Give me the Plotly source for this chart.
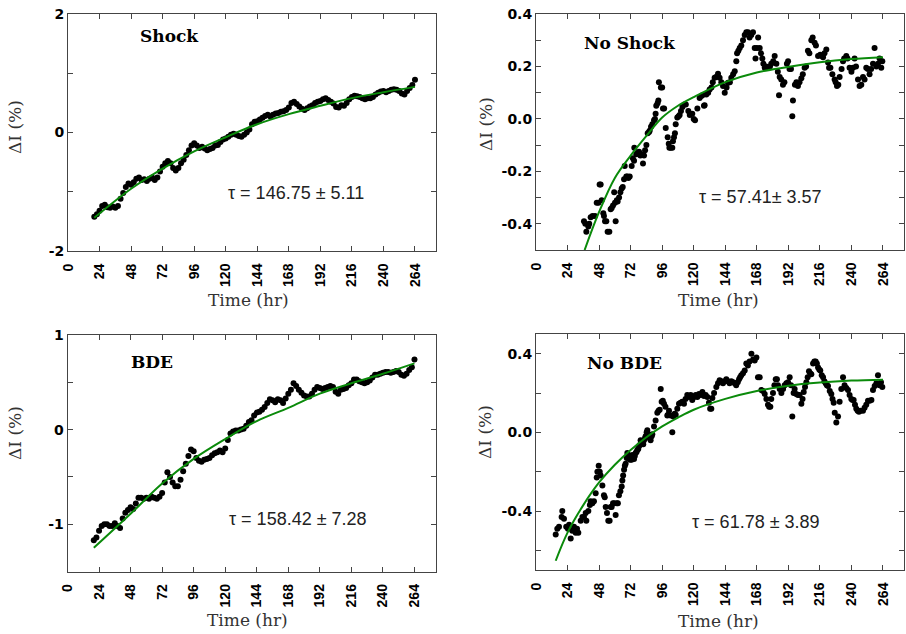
import plotly.graph_objects as go

W, H = 906, 634

# ---------------- data ----------------
TICKS_X = [0, 24, 48, 72, 96, 120, 144, 168, 192, 216, 240, 264]

# Shock (sampled every 2 hr from 20 to 264)
shock_t = list(range(20, 265, 2))
shock_y = [-1.42, -1.38, -1.32, -1.24, -1.22, -1.26, -1.27, -1.25, -1.27, -1.24,
           -1.12, -1.02, -0.92, -0.86, -0.88, -0.84, -0.78, -0.76, -0.80, -0.79,
           -0.82, -0.78, -0.76, -0.80, -0.76, -0.66, -0.58, -0.52, -0.48, -0.52,
           -0.60, -0.64, -0.60, -0.52, -0.46, -0.38, -0.30, -0.22, -0.18, -0.22,
           -0.26, -0.24, -0.27, -0.30, -0.28, -0.26, -0.22, -0.21, -0.16, -0.12,
           -0.10, -0.07, -0.04, -0.02, -0.04, -0.06, -0.07, -0.04, 0.00, 0.05,
           0.14, 0.18, 0.19, 0.22, 0.25, 0.28, 0.30, 0.27, 0.30, 0.32,
           0.33, 0.35, 0.36, 0.38, 0.42, 0.50, 0.52, 0.48, 0.44, 0.40,
           0.38, 0.41, 0.44, 0.46, 0.50, 0.52, 0.53, 0.56, 0.58, 0.55,
           0.52, 0.49, 0.43, 0.42, 0.46, 0.45, 0.50, 0.56, 0.60, 0.62,
           0.61, 0.60, 0.58, 0.56, 0.58, 0.58, 0.60, 0.64, 0.67, 0.69,
           0.70, 0.68, 0.70, 0.72, 0.73, 0.72, 0.70, 0.66, 0.64, 0.70,
           0.75, 0.80, 0.89]
shock_fit_t = [20, 48, 72, 96, 120, 144, 168, 192, 216, 240, 264]
shock_fit_y = [-1.44, -0.95, -0.61, -0.32, -0.08, 0.14, 0.31, 0.45, 0.58, 0.68, 0.77]

# BDE (sampled every 2 hr from 20 to 264)
bde_t = list(range(20, 265, 2))
bde_y = [-1.17, -1.14, -1.07, -1.02, -1.00, -1.00, -1.02, -1.02, -0.99, -1.02,
         -1.04, -0.94, -0.88, -0.85, -0.82, -0.84, -0.78, -0.72, -0.72, -0.73,
         -0.72, -0.73, -0.71, -0.72, -0.73, -0.71, -0.67, -0.56, -0.45, -0.50,
         -0.56, -0.60, -0.60, -0.53, -0.44, -0.36, -0.28, -0.21, -0.23, -0.30,
         -0.33, -0.34, -0.32, -0.31, -0.30, -0.27, -0.25, -0.24, -0.22, -0.24,
         -0.20, -0.11, -0.04, -0.02, -0.01, -0.01, 0.00, 0.01, 0.04, 0.08,
         0.10, 0.15, 0.18, 0.19, 0.21, 0.24, 0.28, 0.32, 0.31, 0.29,
         0.32, 0.31, 0.28, 0.33, 0.38, 0.42, 0.49, 0.46, 0.42, 0.39,
         0.36, 0.35, 0.35, 0.38, 0.42, 0.45, 0.44, 0.43, 0.44, 0.45,
         0.46, 0.45, 0.40, 0.38, 0.42, 0.43, 0.44, 0.47, 0.49, 0.53,
         0.53, 0.51, 0.50, 0.49, 0.50, 0.52, 0.55, 0.58, 0.58, 0.59,
         0.60, 0.61, 0.61, 0.60, 0.61, 0.62, 0.61, 0.58, 0.57, 0.59,
         0.63, 0.66, 0.74]
bde_fit_t = [20, 48, 72, 96, 120, 144, 168, 192, 216, 240, 264]
bde_fit_y = [-1.25, -0.89, -0.57, -0.31, -0.10, 0.09, 0.23, 0.38, 0.49, 0.59, 0.70]

# No Shock
noshock_t = [36.5, 37.5, 38.3, 39.8, 40.5, 41.6, 43, 44.9, 46.2, 47.5, 48.4, 49.2, 50, 51.2,
             51.7, 52.5, 53.5, 54.5, 55.8, 56.8, 57.6, 58.6, 59.5, 60.1, 60.6, 61.5, 62.1,
             63.2, 64.2, 65.2, 66, 67, 67.5, 68.7, 69.5, 70.3, 71.3, 72.8, 73.7, 74.6, 74.8,
             76.3, 77.3, 78.4, 79.4, 80.4, 81.4, 82.2, 83, 84, 85, 86, 86.5, 87.5, 88.5, 89.8,
             90.5, 91, 91.5, 92.5, 93.1, 93.5, 95, 96, 96.6, 97.5, 98.7, 100.2, 101, 101.5,
             102.5, 103.7, 104.2, 105, 105.7, 106.3, 107.5, 108.5, 109.3, 110.3, 111.4,
             112.9, 114, 115.9, 117, 118.9, 120, 121, 122.8, 124.5, 125.8, 126.6, 127.8,
             128.3, 129.6, 131, 132.1, 133.5, 134.5, 135.9, 137, 138.5, 139.7, 141, 142.3,
             143.6, 145, 146.1, 147.5, 148.6, 150, 151.2, 152.4, 153, 154, 155, 156.2, 157.5,
             158.8, 160, 161.3, 162.5, 163.8, 165.1, 166.4, 167, 168.1, 169, 170.2, 171.2,
             172.2, 173, 174, 175, 176.5, 178, 179, 180.5, 181.6, 182.9, 184, 184.9, 185.4,
             186.6, 187.9, 189, 190.9, 191.8, 192.9, 194, 195, 195.5, 197, 198.1, 199.3,
             200.5, 201.9, 203, 204.4, 205.5, 206.9, 208, 209.5, 210.5, 212, 213, 214.6,
             216.3, 217.5, 218.4, 219.5, 220.9, 222.2, 223, 224, 225.5, 227.2, 228, 229,
             230, 231, 232.5, 233.6, 234.5, 236.1, 237, 238.6, 240, 241.2, 242.4, 243.5,
             245, 246.2, 247.5, 248.8, 250, 251.3, 252.5, 253.8, 255, 256.4, 257.6, 259,
             260.2, 261.4, 262.7, 263.5]
noshock_y = [-0.39, -0.40, -0.43, -0.41, -0.40, -0.375, -0.37, -0.37, -0.32, -0.32, -0.25,
             -0.25, -0.31, -0.36, -0.37, -0.39, -0.39, -0.43, -0.43, -0.345, -0.34, -0.33,
             -0.28, -0.32, -0.39, -0.31, -0.315, -0.30, -0.28, -0.265, -0.26, -0.23, -0.18,
             -0.22, -0.22, -0.225, -0.22, -0.18, -0.15, -0.16, -0.11, -0.135, -0.13, -0.125,
             -0.14, -0.135, -0.17, -0.14, -0.12, -0.10, -0.055, -0.05, -0.045, -0.03, -0.02,
             -0.005, 0.00, 0.02, 0.05, 0.06, 0.07, 0.14, 0.12, 0.12, 0.04, 0.04, -0.035,
             -0.07, -0.095, -0.11, -0.11, -0.11, -0.085, -0.07, -0.055, -0.02, 0.005, 0.01,
             0.015, 0.03, 0.045, 0.055, 0.055, 0.03, 0.015, 0.02, 0.00, -0.005, 0.04, 0.08,
             0.087, 0.09, 0.05, 0.052, 0.093, 0.10, 0.112, 0.12, 0.14, 0.157, 0.16, 0.172,
             0.157, 0.14, 0.125, 0.10, 0.12, 0.138, 0.14, 0.157, 0.17, 0.182, 0.22, 0.25,
             0.26, 0.27, 0.28, 0.30, 0.32, 0.33, 0.33, 0.31, 0.32, 0.33, 0.27, 0.23, 0.27,
             0.31, 0.27, 0.25, 0.23, 0.21, 0.195, 0.20, 0.195, 0.20, 0.21, 0.22, 0.24, 0.21,
             0.18, 0.09, 0.16, 0.15, 0.13, 0.14, 0.21, 0.22, 0.19, 0.19, 0.01, 0.07, 0.13,
             0.14, 0.125, 0.14, 0.155, 0.17, 0.195, 0.20, 0.26, 0.25, 0.30, 0.31, 0.29, 0.28,
             0.24, 0.245, 0.24, 0.235, 0.25, 0.265, 0.215, 0.195, 0.195, 0.17, 0.15, 0.14,
             0.125, 0.13, 0.16, 0.19, 0.22, 0.23, 0.24, 0.23, 0.195, 0.18, 0.195, 0.23, 0.20,
             0.15, 0.125, 0.13, 0.16, 0.15, 0.195, 0.19, 0.17, 0.19, 0.21, 0.27, 0.20, 0.21,
             0.23, 0.195, 0.22]
noshock_fit_t = [37, 48, 60, 72, 84, 96, 108, 120, 144, 168, 192, 216, 240, 264]
noshock_fit_y = [-0.50, -0.355, -0.225, -0.14, -0.065, 0.005, 0.05, 0.083, 0.14, 0.177,
                 0.198, 0.216, 0.228, 0.235]

# No BDE
nobde_t = [15, 16.2, 17.5, 19.5, 20, 21.3, 23, 24.3, 25.2, 26.4, 27.6, 28.9, 30.2, 31.2, 32.2,
           34, 35.3, 36.5, 37.8, 38.3, 39.8, 41, 41.6, 42.9, 44.1, 45.4, 46.2, 46.7, 47.7,
           48.5, 49.2, 50.5, 51.7, 52.3, 53, 54, 55, 56, 56.8, 57.6, 58.6, 59.5, 60.6, 61.5,
           62.3, 63.1, 64.2, 65.2, 65.7, 66.3, 67, 67.6, 68.2, 69, 69.5, 70.2, 70.8, 71.5, 72,
           72.7, 73.3, 74, 74.6, 75.2, 75.8, 76.5, 77.1, 77.8, 78.4, 79, 79.6, 80.3, 80.9,
           81.6, 82.2, 83, 83.4, 84.2, 84.7, 85.4, 86, 86.7, 87.2, 88, 88.5, 89.8, 91, 92.3,
           93.2, 94.1, 94.9, 95.6, 96.5, 97.4, 98.5, 99.9, 100.5, 101.2, 102.5, 103.7, 104.5,
           105.5, 106.3, 107.5, 108.8, 110, 111.3, 112.6, 113.8, 115.1, 116.4, 117.7, 118.9,
           120.2, 121.5, 122.8, 124, 125.3, 126.6, 127.8, 129.1, 130.4, 131.6, 132.5, 133.4,
           134.2, 135.5, 137.2, 138.5, 139.7, 141, 142.3, 143.5, 144.8, 146, 147.3, 148.6,
           150, 151.2, 152.3, 153.5, 154.5, 155.3, 156.2, 157.5, 158.8, 160, 161.2, 162.5,
           163.9, 165.2, 166.4, 167.7, 168.9, 170.2, 171.5, 172.7, 174, 175.3, 176.5, 177.4,
           178.3, 179, 180.3, 181.4, 182.4, 183.3, 184.1, 185.4, 186.7, 188, 189.2, 190.5,
           191.8, 193, 194, 195, 196, 196.8, 198, 199.3, 200.6, 201.9, 202.8, 203.7, 204.7,
           205.7, 206.7, 207.7, 208.6, 209.5, 210.8, 211.8, 212.8, 213.7, 214.6, 215.5,
           216.3, 217.4, 218.4, 219.4, 220.4, 221.3, 222.2, 223.5, 224.7, 225.6, 226.5,
           227.3, 228.5, 229.8, 231, 232.3, 233.6, 234.8, 236.1, 237.4, 238.6, 239.9, 240.8,
           241.7, 242.7, 243.7, 244.7, 245.7, 247, 248.8, 250, 251.3, 252.6, 253.9, 255.2,
           256.4, 257.7, 259, 260.2, 261.4, 262.5, 263.5]
nobde_y = [-0.52, -0.49, -0.48, -0.43, -0.40, -0.44, -0.48, -0.49, -0.47, -0.54, -0.50, -0.48,
           -0.51, -0.49, -0.51, -0.45, -0.43, -0.43, -0.41, -0.45, -0.40, -0.37, -0.35, -0.36,
           -0.35, -0.31, -0.23, -0.20, -0.17, -0.20, -0.22, -0.27, -0.32, -0.33, -0.38, -0.41,
           -0.45, -0.45, -0.38, -0.38, -0.36, -0.36, -0.42, -0.36, -0.36, -0.32, -0.30,
           -0.275, -0.245, -0.22, -0.19, -0.17, -0.16, -0.13, -0.105, -0.12, -0.125, -0.14,
           -0.13, -0.14, -0.115, -0.12, -0.135, -0.12, -0.105, -0.10, -0.09, -0.085, -0.07,
           -0.065, -0.04, -0.055, -0.05, -0.06, -0.04, -0.03, -0.02, 0.00, 0.01, -0.01, -0.02,
           -0.03, -0.04, -0.02, -0.01, 0.03, 0.06, 0.10, 0.11, 0.115, 0.22, 0.155, 0.16, 0.145,
           0.13, 0.085, 0.09, 0.11, 0.085, 0.00, 0.08, 0.095, 0.09, 0.12, 0.145, 0.15, 0.155,
           0.145, 0.17, 0.19, 0.18, 0.19, 0.165, 0.18, 0.19, 0.18, 0.195, 0.19, 0.205, 0.185,
           0.19, 0.18, 0.15, 0.12, 0.12, 0.175, 0.20, 0.23, 0.25, 0.265, 0.26, 0.25, 0.26,
           0.27, 0.26, 0.25, 0.26, 0.255, 0.25, 0.24, 0.255, 0.27, 0.28, 0.29, 0.30, 0.315,
           0.35, 0.34, 0.36, 0.40, 0.37, 0.365, 0.38, 0.28, 0.28, 0.215, 0.21, 0.195, 0.17,
           0.14, 0.13, 0.13, 0.17, 0.20, 0.24, 0.27, 0.27, 0.24, 0.22, 0.20, 0.22, 0.24, 0.25,
           0.255, 0.28, 0.24, 0.08, 0.20, 0.22, 0.195, 0.19, 0.19, 0.145, 0.17, 0.205, 0.23,
           0.255, 0.28, 0.31, 0.30, 0.295, 0.35, 0.36, 0.36, 0.35, 0.33, 0.32, 0.315, 0.29,
           0.28, 0.26, 0.25, 0.24, 0.235, 0.21, 0.195, 0.17, 0.15, 0.10, 0.05, 0.08, 0.155,
           0.22, 0.28, 0.24, 0.225, 0.215, 0.19, 0.17, 0.165, 0.165, 0.14, 0.12, 0.11, 0.105,
           0.11, 0.11, 0.125, 0.14, 0.16, 0.16, 0.165, 0.215, 0.235, 0.25, 0.29, 0.24, 0.255,
           0.23]
nobde_fit_t = [15, 24, 36, 48, 60, 72, 84, 96, 108, 120, 144, 168, 192, 216, 240, 264]
nobde_fit_y = [-0.653, -0.51, -0.37, -0.255, -0.165, -0.09, -0.025, 0.03, 0.075, 0.115, 0.17,
               0.21, 0.237, 0.253, 0.263, 0.268]

# ---------------- figure ----------------
panels = [
    dict(name="Shock", t=shock_t, y=shock_y, ft=shock_fit_t, fy=shock_fit_y,
         yr=[-2, 2], yt=[-2, -1, 0, 1, 2], ytxt=["-2", "", "0", "", "2"],
         tau="τ = 146.75 ± 5.11"),
    dict(name="No Shock", t=noshock_t, y=noshock_y, ft=noshock_fit_t, fy=noshock_fit_y,
         yr=[-0.5, 0.4], yt=[-0.5, -0.4, -0.3, -0.2, -0.1, 0.0, 0.1, 0.2, 0.3, 0.4],
         ytxt=["", "-0.4", "", "-0.2", "", "0.0", "", "0.2", "", "0.4"],
         tau="τ = 57.41± 3.57"),
    dict(name="BDE", t=bde_t, y=bde_y, ft=bde_fit_t, fy=bde_fit_y,
         yr=[-1.5, 1], yt=[-1.5, -1, -0.5, 0, 0.5, 1], ytxt=["", "-1", "", "0", "", "1"],
         tau="τ = 158.42 ± 7.28"),
    dict(name="No BDE", t=nobde_t, y=nobde_y, ft=nobde_fit_t, fy=nobde_fit_y,
         yr=[-0.7, 0.5], yt=[-0.6, -0.4, -0.2, 0.0, 0.2, 0.4],
         ytxt=["", "-0.4", "", "0.0", "", "0.4"],
         tau="τ = 61.78 ± 3.89"),
]

# pixel boxes (left, top, right, bottom)
boxes = [(68, 14, 436, 251), (536, 14, 904, 250), (67.5, 335, 435.5, 571.5), (536, 334, 904, 570)]
# text placements in pixels
label_pos = [(138, 36), (582, 43), (129, 362), (585, 363)]
tau_pos = [(296, 193), (760, 197), (298, 519), (756, 522)]
ytitle_pos = [(15, 127), (486, 124), (15, 433), (485, 432)]
xtitle_pos = [(248, 300), (718, 300), (247, 620), (718, 621)]


def px(x):
    return x / W


def py(y):
    return 1 - y / H


fig = go.Figure()
layout = dict(width=W, height=H, margin=dict(l=0, r=0, t=0, b=0, autoexpand=False),
              plot_bgcolor="white", paper_bgcolor="white", showlegend=False)
annotations = []

for i, p in enumerate(panels):
    k = "" if i == 0 else str(i + 1)
    xa, ya = "x" + k, "y" + k
    fig.add_trace(go.Scatter(x=p["t"], y=p["y"], mode="markers", xaxis=xa, yaxis=ya,
                             marker=dict(color="black", size=6, line=dict(width=0)),
                             cliponaxis=True))
    fig.add_trace(go.Scatter(x=p["ft"], y=p["fy"], mode="lines", xaxis=xa, yaxis=ya,
                             line=dict(color="#0a8a0a", width=2, shape="spline", smoothing=1.0)))
    l, t, r, b = boxes[i]
    layout["xaxis" + k] = dict(domain=[px(l), px(r)], range=[0, 280], anchor=ya,
                               automargin=False,
                               tickmode="array", tickvals=TICKS_X,
                               ticktext=[str(v) for v in TICKS_X], tickangle=-90,
                               ticks="inside", ticklen=5, tickcolor="#444",
                               ticklabelstandoff=6,
                               showline=True, linecolor="#444", linewidth=1, mirror="ticks",
                               showgrid=False, zeroline=False,
                               tickfont=dict(family="Liberation Sans", size=14, color="black",
                                             weight="bold"))
    layout["yaxis" + k] = dict(domain=[py(b), py(t)], range=p["yr"], anchor=xa,
                               automargin=False,
                               tickmode="array", tickvals=p["yt"], ticktext=p["ytxt"],
                               ticks="inside", ticklen=5, tickcolor="#444",
                               showline=True, linecolor="#444", linewidth=1, mirror="ticks",
                               showgrid=False, zeroline=False,
                               tickfont=dict(family="DejaVu Sans", size=14, color="black",
                                             weight="bold"))
    annotations.append(dict(text=p["name"], x=px(label_pos[i][0]), y=py(label_pos[i][1]),
                            xref="paper", yref="paper", xanchor="left", yanchor="middle",
                            showarrow=False,
                            font=dict(family="DejaVu Serif", size=17, color="black",
                                      weight="bold")))
    annotations.append(dict(text=p["tau"], x=px(tau_pos[i][0]), y=py(tau_pos[i][1]),
                            xref="paper", yref="paper", xanchor="center", yanchor="middle",
                            showarrow=False,
                            font=dict(family="Liberation Sans", size=18, color="#222")))
    annotations.append(dict(text="ΔI (%)", x=px(ytitle_pos[i][0]), y=py(ytitle_pos[i][1]),
                            xref="paper", yref="paper", xanchor="center", yanchor="middle",
                            textangle=-90, showarrow=False,
                            font=dict(family="DejaVu Serif", size=17, color="#333")))
    annotations.append(dict(text="Time (hr)", x=px(xtitle_pos[i][0]), y=py(xtitle_pos[i][1]),
                            xref="paper", yref="paper", xanchor="center", yanchor="middle",
                            showarrow=False,
                            font=dict(family="DejaVu Serif", size=17, color="#333")))

layout["annotations"] = annotations
fig.update_layout(**layout)
fig.write_html("out.html")
